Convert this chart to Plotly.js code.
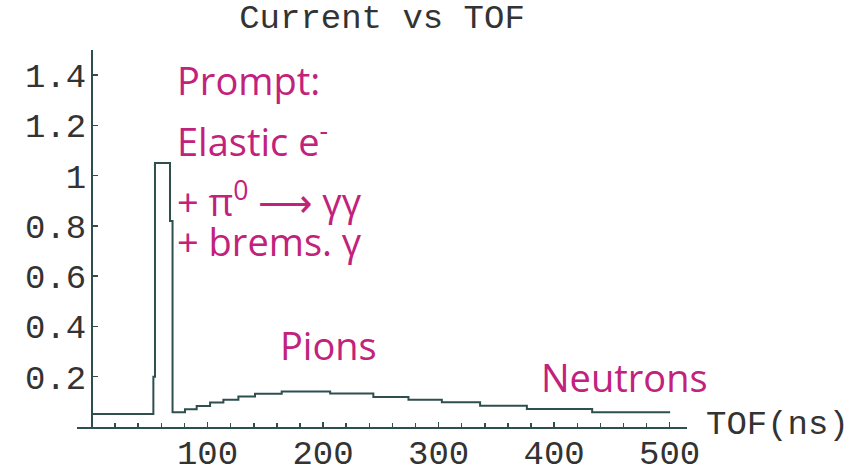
<!DOCTYPE html>
<html>
<head>
<meta charset="utf-8">
<script src="https://cdn.plot.ly/plotly-3.0.1.min.js"></script>
<style>html,body{margin:0;padding:0;background:#fff;}#chart{width:852px;height:468px;}</style>
</head>
<body>
<div id="chart"></div>
<script>
// Step histogram: left bin edges (ns) and current per bin
const tofEdges = [0, 53.1, 54.5, 67.5, 69.7, 80.5, 90.6, 102.2, 113.7, 126.7, 141.1, 164.2, 206.1, 243.5, 273.9, 302.8, 335.9, 376.4, 432.9];
const tofEnd = 500.4;
const current = [0.052, 0.2, 1.05, 0.82, 0.059, 0.071, 0.084, 0.097, 0.108, 0.121, 0.132, 0.141, 0.133, 0.119, 0.108, 0.098, 0.085, 0.072, 0.059];

const xTickVals = [100, 200, 300, 400, 500];
const yTickVals = [0.2, 0.4, 0.6, 0.8, 1, 1.2, 1.4];

const labelTexts = ['Prompt:', 'Elastic e<sup>-</sup>', '+ π<sup>0</sup> ⟶ γγ', '+ brems. γ', 'Pions', 'Neutrons'];
const labelX = [73, 73, 73, 73, 162, 388];
const labelY = [1.38, 1.145, 0.905, 0.74, 0.325, 0.198];

const mono = 'Courier New, Liberation Mono, monospace';
const ink = '#2f4f4f';
const textInk = '#333333';
const magenta = '#c2217c';

const xs = tofEdges.concat([tofEnd]);
const ys = current.concat([current[current.length - 1]]);

const trace = {
  x: xs, y: ys, type: 'scatter', mode: 'lines',
  line: {shape: 'hv', color: ink, width: 2},
  hoverinfo: 'skip'
};

const annotations = labelTexts.map((t, i) => ({
  text: t, x: labelX[i], y: labelY[i], xref: 'x', yref: 'y',
  xanchor: 'left', yanchor: 'middle', showarrow: false, borderpad: 0,
  font: {family: 'Open Sans, sans-serif', size: 38, color: magenta}
}));
annotations.push({
  text: 'TOF(ns)', xref: 'paper', yref: 'paper', x: 1, y: 0,
  xanchor: 'left', yanchor: 'middle', xshift: 17, yshift: 2, showarrow: false,
  font: {family: mono, size: 34, color: textInk}
});

const layout = {
  width: 852, height: 468,
  margin: {l: 77, r: 165, t: 50, b: 41},
  paper_bgcolor: '#ffffff', plot_bgcolor: '#ffffff',
  showlegend: false,
  title: {
    text: 'Current vs TOF', x: 0.5, xref: 'paper', xanchor: 'center',
    y: 1 - 16 / 468, yref: 'container', yanchor: 'middle',
    font: {family: mono, size: 34, color: textInk}
  },
  xaxis: {
    range: [-13, 515], showline: true, linecolor: ink, linewidth: 2,
    showgrid: false, zeroline: false,
    tickmode: 'array', tickvals: xTickVals,
    ticks: 'inside', ticklen: 5, tickwidth: 1.5, tickcolor: ink,
    ticklabelstandoff: -6,
    tickfont: {family: mono, size: 34, color: textInk},
    minor: {tickmode: 'linear', tick0: 0, dtick: 20, ticks: 'inside', ticklen: 4, tickwidth: 1.5, tickcolor: ink, showgrid: false}
  },
  yaxis: {
    range: [0, 1.5], anchor: 'free', position: 13 / 528,
    showline: true, linecolor: ink, linewidth: 2,
    showgrid: false, zeroline: false,
    tickmode: 'array', tickvals: yTickVals,
    ticks: 'inside', ticklen: 5, tickwidth: 1.5, tickcolor: ink,
    ticklabelstandoff: -2,
    tickfont: {family: mono, size: 34, color: textInk}
  },
  annotations: annotations
};

Plotly.newPlot('chart', [trace], layout, {staticPlot: true, displayModeBar: false});
</script>
</body>
</html>
